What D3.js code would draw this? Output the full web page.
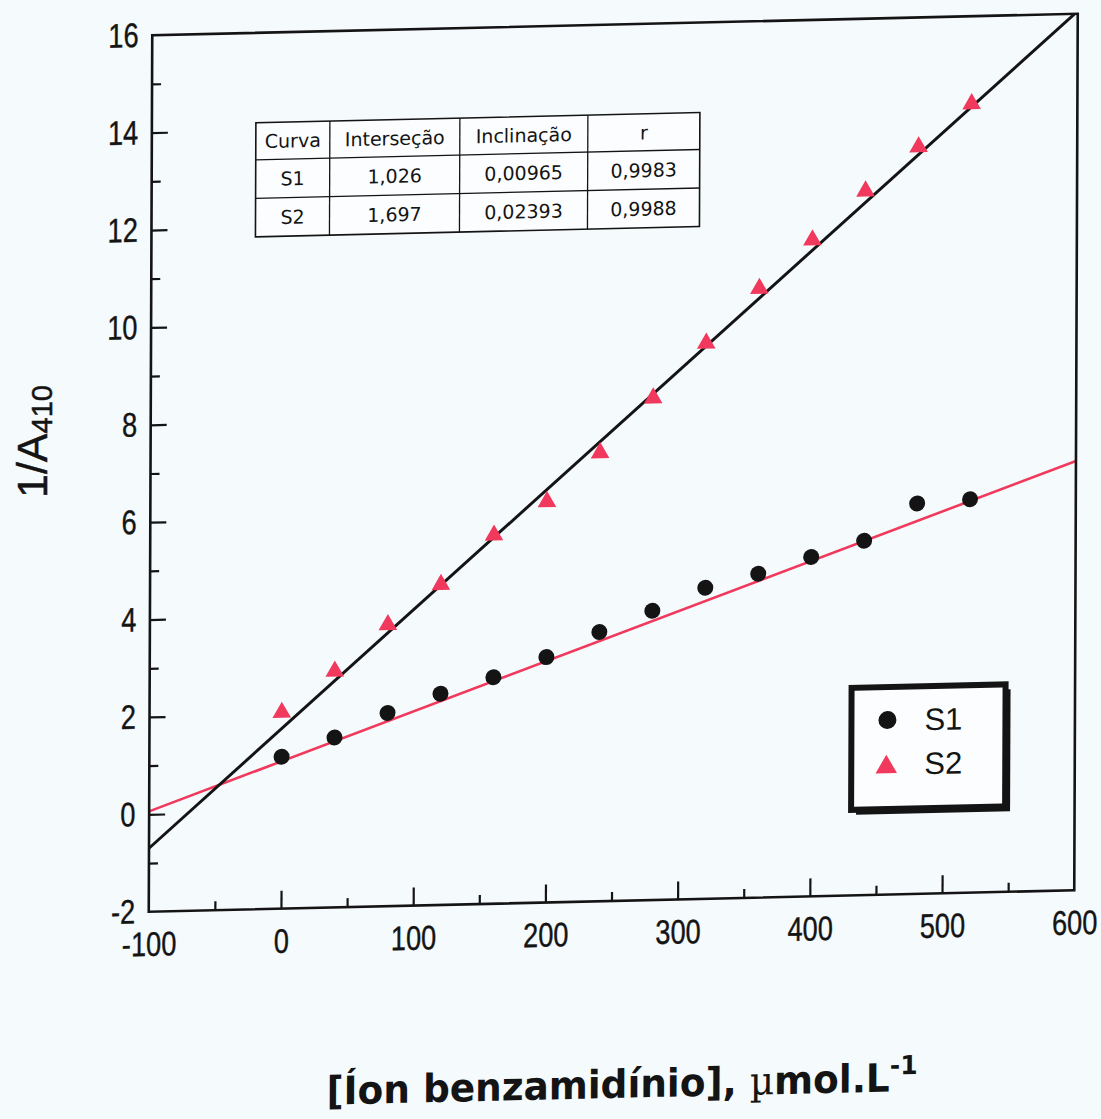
<!DOCTYPE html>
<html>
<head>
<meta charset="utf-8">
<script src="https://cdn.jsdelivr.net/npm/d3@7"></script>
<style>
  html, body { margin: 0; padding: 0; background: #f5fafc; }
  svg { display: block; }
</style>
</head>
<body>
<svg id="chart" width="1101" height="1119"></svg>
<script>
// Benzamidinium concentration (µmol/L) at which 1/A410 was measured
const concentration = [0, 40, 80, 120, 160, 200, 240, 280, 320, 360, 400, 440, 480, 520];
// Series S1 (circles) and S2 (triangles)
const s1Values = [1.12, 1.49, 1.97, 2.34, 2.65, 3.04, 3.53, 3.94, 4.39, 4.65, 4.97, 5.28, 6.02, 6.08];
const s2Values = [2.03, 2.85, 3.78, 4.58, 5.57, 6.23, 7.21, 8.31, 9.41, 10.51, 11.48, 12.46, 13.34, 14.20];

// Linear fits per series
const seriesNames = ["S1", "S2"];
const fitIntercepts = [1.026, 1.697];
const fitSlopes = [0.00965, 0.02393];
const fitR = [0.9983, 0.9988];

// Axis ticks
const xTicks = [-100, 0, 100, 200, 300, 400, 500, 600];
const xMinorTicks = [-50, 50, 150, 250, 350, 450, 550];
const xMajorMarks = [0, 100, 200, 300, 400, 500];
const yTicks = [-2, 0, 2, 4, 6, 8, 10, 12, 14, 16];
const yMinorTicks = [-1, 1, 3, 5, 7, 9, 11, 13, 15];
const tableHeader = ["Curva", "Interseção", "Inclinação", "r"];

const RED = "#f0395c";
const INK = "#141414";
const W = 925.5, H = 876.5;
const NARROW = "scale(0.8,1)"; // condensed look for the axis lettering

const svg = d3.select("#chart");
svg.append("rect").attr("width", 1101).attr("height", 1119).attr("fill", "#f5fafc");

// the whole figure sits slightly tilted on the page
const g = svg.append("g")
  .attr("transform", "matrix(1,-0.02323,-0.00399,1,152.25,35.25)");

const x = d3.scaleLinear().domain([-100, 600]).range([0, W]);
const y = d3.scaleLinear().domain([-2, 16]).range([H, 0]);

// Brazilian number formatting (decimal comma)
const br = d3.formatLocale({ decimal: ",", thousands: ".", grouping: [3], currency: ["R$", ""] });

g.append("defs").append("clipPath").attr("id", "plotClip")
  .append("rect").attr("width", W).attr("height", H);

// --- axis labels
const xLab = g.append("g").attr("transform", `translate(0,${H})`)
  .call(d3.axisBottom(x).tickValues(xTicks).tickSize(0).tickPadding(20).tickFormat(d => String(d)));
xLab.select(".domain").remove();
xLab.selectAll("text").attr("font-family", "'Liberation Sans', Arial, sans-serif")
  .attr("font-size", 34).attr("fill", INK).attr("stroke", INK).attr("stroke-width", 0.4)
  .attr("transform", NARROW);

const yLab = g.append("g")
  .call(d3.axisLeft(y).tickValues(yTicks).tickSize(0).tickPadding(17).tickFormat(d => String(d)));
yLab.select(".domain").remove();
yLab.selectAll("text").attr("font-family", "'Liberation Sans', Arial, sans-serif")
  .attr("font-size", 34).attr("fill", INK).attr("stroke", INK).attr("stroke-width", 0.4)
  .attr("transform", NARROW);

// --- inward tick marks
function tickMarks(axis, values, size, transform) {
  const t = g.append("g").attr("transform", transform || null)
    .call(axis.tickValues(values).tickSize(size).tickFormat(""));
  t.select(".domain").remove();
  t.selectAll("line").attr("stroke", INK).attr("stroke-width", 2.2);
}
tickMarks(d3.axisBottom(x), xMajorMarks, -18, `translate(0,${H})`);
tickMarks(d3.axisBottom(x), xMinorTicks, -9, `translate(0,${H})`);
tickMarks(d3.axisLeft(y), yTicks.slice(1, -1), -16);
tickMarks(d3.axisLeft(y), yMinorTicks, -9);

// --- fitted lines
const plot = g.append("g").attr("clip-path", "url(#plotClip)");
const lineColors = [RED, INK];
seriesNames.forEach((name, i) => {
  const pts = [-100, 600].map(v => [x(v), y(fitIntercepts[i] + fitSlopes[i] * v)]);
  plot.append("path")
    .attr("d", d3.line()(pts))
    .attr("stroke", lineColors[i])
    .attr("stroke-width", i === 0 ? 2.6 : 3)
    .attr("fill", "none");
});

// --- data points
g.append("g").selectAll("circle").data(concentration).join("circle")
  .attr("cx", (d) => x(d))
  .attr("cy", (d, i) => y(s1Values[i]))
  .attr("r", 8)
  .attr("fill", INK);

const tri = d3.symbol().type(d3.symbolTriangle).size(150);
g.append("g").selectAll("path").data(concentration).join("path")
  .attr("d", tri)
  .attr("transform", (d, i) => `translate(${x(d)},${y(s2Values[i])})`)
  .attr("fill", RED);

// --- frame
g.append("rect").attr("width", W).attr("height", H)
  .attr("fill", "none").attr("stroke", INK).attr("stroke-width", 2.6);

// --- regression table
const colW = [74, 130, 128, 112];
const rowH = [37, 38.5, 38.5];
const tbl = g.append("g").attr("transform", "translate(104,90)");
const fmts = [br.format(".3f"), br.format(".5f"), br.format(".4f")];
const rows = [tableHeader].concat(seriesNames.map((n, i) =>
  [n, fmts[0](fitIntercepts[i]), fmts[1](fitSlopes[i]), fmts[2](fitR[i])]));
const colX = d3.cumsum([0].concat(colW));
const rowY = d3.cumsum([0].concat(rowH));
tbl.append("rect").attr("width", colX[colX.length - 1]).attr("height", rowY[rowY.length - 1])
  .attr("fill", "#fbfdfe").attr("stroke", INK).attr("stroke-width", 1.6);
colX.slice(1, -1).forEach(cx => tbl.append("line")
  .attr("x1", cx).attr("x2", cx).attr("y1", 0).attr("y2", rowY[rowY.length - 1])
  .attr("stroke", INK).attr("stroke-width", 1.3));
rowY.slice(1, -1).forEach(ry => tbl.append("line")
  .attr("x1", 0).attr("x2", colX[colX.length - 1]).attr("y1", ry).attr("y2", ry)
  .attr("stroke", INK).attr("stroke-width", 1.3));
rows.forEach((row, ri) => row.forEach((txt, ci) => {
  tbl.append("text")
    .attr("x", (colX[ci] + colX[ci + 1]) / 2)
    .attr("y", (rowY[ri] + rowY[ri + 1]) / 2 + 7)
    .attr("text-anchor", "middle")
    .attr("font-family", "'DejaVu Sans', Verdana, sans-serif")
    .attr("font-size", 19)
    .attr("fill", INK)
    .text(txt);
}));

// --- legend
const lg = g.append("g").attr("transform", "translate(702,669)");
lg.append("rect").attr("x", 5).attr("y", 5).attr("width", 154).attr("height", 122).attr("fill", INK);
lg.append("rect").attr("x", 0).attr("y", 0).attr("width", 154).attr("height", 122)
  .attr("fill", "#fbfdfe").attr("stroke", INK).attr("stroke-width", 6);
lg.append("circle").attr("cx", 36).attr("cy", 33).attr("r", 9).attr("fill", INK);
lg.append("path").attr("d", d3.symbol().type(d3.symbolTriangle).size(200))
  .attr("transform", "translate(35,80)").attr("fill", RED);
seriesNames.forEach((n, i) => lg.append("text")
  .attr("x", 73).attr("y", 44 + i * 44)
  .attr("font-family", "'Liberation Sans', Arial, sans-serif")
  .attr("font-size", 31).attr("fill", INK).text(n));

// --- x axis title
const xt = g.append("text")
  .attr("transform", `translate(474,${H + 197}) scale(0.96,1)`)
  .attr("text-anchor", "middle")
  .attr("font-family", "'DejaVu Sans', Verdana, sans-serif")
  .attr("font-weight", "bold")
  .attr("font-size", 39)
  .attr("fill", INK);
xt.append("tspan").text("[Íon benzamidínio], ");
xt.append("tspan").attr("font-family", "'DejaVu Serif', 'Liberation Serif', serif")
  .attr("font-weight", "normal").text("µ");
xt.append("tspan").text("mol.L");
xt.append("tspan").attr("font-size", 26).attr("dy", -17).text("-1");

// --- y axis title
const yt = svg.append("text")
  .attr("transform", "translate(47,498) rotate(-90)")
  .attr("font-family", "'Liberation Sans', Arial, sans-serif")
  .attr("font-size", 43)
  .attr("fill", INK)
  .attr("stroke", INK).attr("stroke-width", 0.5);
yt.append("tspan").text("1/A");
yt.append("tspan").attr("font-size", 29).attr("dy", 5).text("410");
</script>
</body>
</html>
